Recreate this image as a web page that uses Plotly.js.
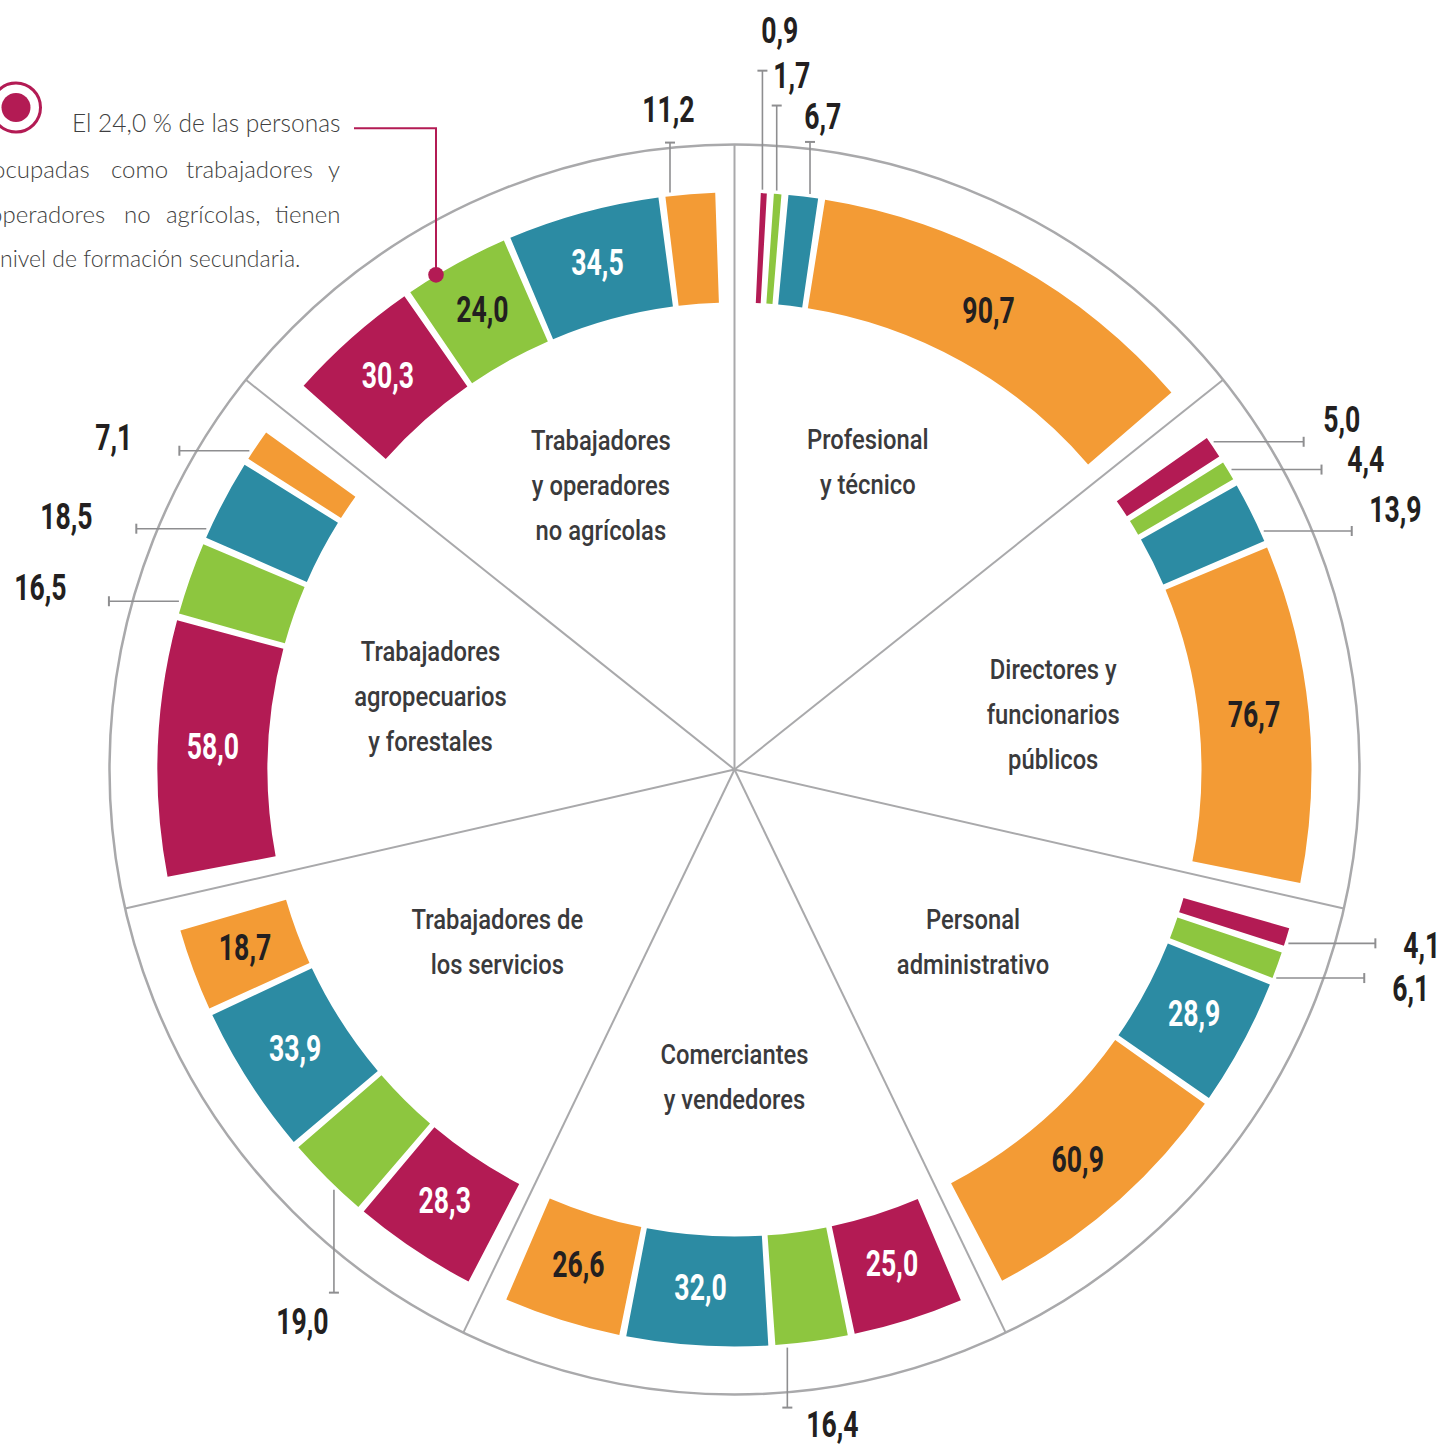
<!DOCTYPE html>
<html><head><meta charset="utf-8">
<script src="https://cdn.plot.ly/plotly-3.0.1.min.js"></script>
<style>html,body{margin:0;padding:0;background:#fff;overflow:hidden}#chart{width:1441px;height:1445px}</style>
</head><body><div id="chart"></div>
<script>
// ---------- DATA ----------
const categories = [
  "Profesional<br>y técnico",
  "Directores y<br>funcionarios<br>públicos",
  "Personal<br>administrativo",
  "Comerciantes<br>y vendedores",
  "Trabajadores de<br>los servicios",
  "Trabajadores<br>agropecuarios<br>y forestales",
  "Trabajadores<br>y operadores<br>no agrícolas"
];
// percentage of each occupation by education level (4 levels, clockwise inside each sector)
const nivel1 = [0.9, 5.0, 4.1, 25.0, 28.3, 58.0, 30.3];   // magenta
const nivel2 = [1.7, 4.4, 6.1, 16.4, 19.0, 16.5, 24.0];   // green (secundaria)
const nivel3 = [6.7, 13.9, 28.9, 32.0, 33.9, 18.5, 34.5]; // teal
const nivel4 = [90.7, 76.7, 60.9, 26.6, 18.7, 7.1, 11.2]; // orange
const calloutText = ["El 24,0 % de las personas", "ocupadas como trabajadores y", "operadores no agrícolas, tienen", "nivel de formación secundaria."];

// ---------- STYLE / LAYOUT CONFIG ----------
const seriesValues = [nivel1, nivel2, nivel3, nivel4];
const seriesColors = ['#B31B54', '#8DC63F', '#2C8BA3', '#F39B35'];
const insideColors = ['#FFFFFF', '#231F20', '#FFFFFF', '#231F20'];
const W = 1441, H = 1445, CX = 734.5, CY = 769.5, RPX = 625, RMAX = 125, PX = RPX / RMAX;
const SECTOR = 360 / categories.length, SPAN100 = 44.3, GAP = 0.7, MINW = 0.6;
const sectorShift = [0.2, 1.0, 0.6, 0.1, -0.8, -0.35, 0.6]; // small hand placement of each group (deg)
const BASE = 93.4, LEN = 22;
const NUMFONT = "Roboto, 'Noto Sans', sans-serif";
const NUM_SIZE = 37, NUM_SCALE = 0.72, CAT_SIZE = 28, CAT_SCALE = 0.85;
const LEADER = '#8E8E90';
// category label placement: [radius px, angle deg]
const catPos = [[333, 23.6], [323, 80.7], [296, 126.3], [310, 180], [295, 233.5], [312, 283], [311.5, 334.6]];
const CAT_LINE = 45;
// labels drawn outside the ring with a leader line (f = where along the bar the leader starts)
const outside = {
  '0-0': {dir: 'up', len: 119, dx: 18, dy: -40, f: 0.24},
  '0-1': {dir: 'up', len: 85, dx: 15, dy: -30, f: 0.34},
  '0-2': {dir: 'up', len: 52, dx: 13, dy: -25, f: 0.71},
  '6-3': {dir: 'up', len: 50, dx: -1, dy: -33, f: 0.1},
  '1-0': {dir: 'right', len: 90, dx: 38, dy: -22, f: 0.31},
  '1-1': {dir: 'right', len: 90, dx: 44, dy: -10, f: 0.53},
  '1-2': {dir: 'right', len: 88, dx: 44, dy: -21, f: 0.85},
  '2-0': {dir: 'right', len: 87, dx: 47, dy: 2, f: 0.8},
  '2-1': {dir: 'right', len: 88, dx: 47, dy: 10, f: 0.95},
  '3-1': {dir: 'down', len: 60, dx: 45, dy: 17, f: 0.84},
  '4-1': {dir: 'down', len: 103, dx: -31, dy: 29, f: 0.35},
  '5-3': {dir: 'left', len: 70, dx: -65, dy: -13, f: 0.23},
  '5-2': {dir: 'left', len: 70, dx: -70, dy: -12, f: 0.10},
  '5-1': {dir: 'left', len: 70, dx: -68, dy: -14, f: 0.16}
};

// ---------- helpers ----------
function toPolar(x, y) { const dx = x - CX, dy = y - CY; return {r: Math.hypot(dx, dy) / PX, t: (Math.atan2(dx, -dy) * 180 / Math.PI + 360) % 360}; }
function toXY(r, t) { const a = t * Math.PI / 180; return {x: CX + r * PX * Math.sin(a), y: CY - r * PX * Math.cos(a)}; }
const px = x => x / W, py = y => 1 - y / H;
const fmt = v => v.toFixed(1).replace('.', ',');

// angular geometry of every bar, derived from its value
const geo = categories.map((c, k) => {
  const ws = seriesValues.map(a => Math.max(MINW, a[k] / 100 * SPAN100));
  const total = ws.reduce((p, q) => p + q, 0) + GAP * (ws.length - 1);
  let t = k * SECTOR + (SECTOR - total) / 2 + sectorShift[k];
  return ws.map(w => { const g = {t0: t, w: w, tc: t + w / 2}; t += w + GAP; return g; });
});

const traces = [];
seriesValues.forEach((vals, s) => {
  traces.push({
    type: 'barpolar',
    theta: vals.map((v, k) => geo[k][s].tc),
    width: vals.map((v, k) => geo[k][s].w),
    r: vals.map(() => LEN),
    base: vals.map(() => BASE),
    marker: {color: seriesColors[s], line: {width: 0}},
    hoverinfo: 'skip', showlegend: false
  });
});

const shapes = [], ann = [];
const inR = [], inT = [], inTx = [], inC = [];
seriesValues.forEach((vals, s) => {
  vals.forEach((v, k) => {
    const g = geo[k][s];
    const cfg = outside[k + '-' + s];
    if (!cfg) {
      inR.push(BASE + LEN / 2); inT.push(g.tc); inTx.push(fmt(v)); inC.push(insideColors[s]);
    } else {
      const st = toXY(BASE + LEN + 0.7, g.t0 + cfg.f * g.w);
      let ex = st.x, ey = st.y, vert = true;
      if (cfg.dir === 'up') ey = st.y - cfg.len;
      if (cfg.dir === 'down') ey = st.y + cfg.len;
      if (cfg.dir === 'left') { ex = st.x - cfg.len; vert = false; }
      if (cfg.dir === 'right') { ex = st.x + cfg.len; vert = false; }
      shapes.push({type: 'line', xref: 'paper', yref: 'paper', x0: px(st.x), y0: py(st.y), x1: px(ex), y1: py(ey), line: {color: LEADER, width: 1.6}});
      if (vert) shapes.push({type: 'line', xref: 'paper', yref: 'paper', x0: px(ex - 5), y0: py(ey), x1: px(ex + 5), y1: py(ey), line: {color: LEADER, width: 2}});
      else shapes.push({type: 'line', xref: 'paper', yref: 'paper', x0: px(ex), y0: py(ey - 5), x1: px(ex), y1: py(ey + 5), line: {color: LEADER, width: 2}});
      ann.push({text: fmt(v), x: px(ex + cfg.dx), y: py(ey + cfg.dy), xref: 'paper', yref: 'paper', xanchor: 'center', yanchor: 'middle',
        showarrow: false, font: {family: NUMFONT, size: NUM_SIZE, color: '#231F20', weight: 'bold'}});
    }
  });
});
traces.push({type: 'scatterpolar', mode: 'text', r: inR, theta: inT, text: inTx, textposition: 'middle center',
  textfont: {family: NUMFONT, size: NUM_SIZE, color: inC, weight: 'bold'}, cliponaxis: false, hoverinfo: 'skip', showlegend: false});

// category labels, one text per line
const cR = [], cT = [], cTx = [];
categories.forEach((c, k) => {
  const lines = c.split('<br>');
  const ctr = toXY(catPos[k][0] / PX, catPos[k][1]);
  lines.forEach((ln, i) => {
    const p = toPolar(ctr.x, ctr.y + (i - (lines.length - 1) / 2) * CAT_LINE);
    cR.push(p.r); cT.push(p.t); cTx.push(ln);
  });
});
traces.push({type: 'scatterpolar', mode: 'text', r: cR, theta: cT, text: cTx, textposition: 'middle center',
  textfont: {family: NUMFONT, size: CAT_SIZE, color: '#3A3A3C', weight: 500}, cliponaxis: false, hoverinfo: 'skip', showlegend: false});

// callout: dot on the green bar of the last sector, connector to text, and icon
const MAG = '#B31B54';
const cg = geo[6][1];
const dot = toXY(BASE + LEN + 0.15, cg.t0 + 0.29 * cg.w);
const TXT_Y = 128.3, TXT_X = 354;
shapes.push({type: 'path', xref: 'paper', yref: 'paper',
  path: `M ${px(dot.x)} ${py(dot.y)} L ${px(dot.x)} ${py(TXT_Y)} L ${px(TXT_X)} ${py(TXT_Y)}`, line: {color: MAG, width: 2}});
function circ(x, y, r, fill, lw) {
  shapes.push({type: 'circle', xref: 'paper', yref: 'paper', x0: px(x - r), x1: px(x + r), y0: py(y + r), y1: py(y - r),
    fillcolor: fill, line: {color: MAG, width: lw}});
}
circ(dot.x, dot.y, 7.8, MAG, 0);
circ(16, 107.5, 24.5, 'rgba(0,0,0,0)', 3);
circ(16, 107.5, 14.5, MAG, 0);

// callout text (justified look)
const TFAM = "Lato, 'Open Sans', sans-serif", TCOL = '#3F3F41';
function addTxt(text, x, y, xa, size) {
  ann.push({text: text, x: px(x), y: py(y), xref: 'paper', yref: 'paper', xanchor: xa, yanchor: 'middle', showarrow: false,
    font: {family: TFAM, size: size || 24, color: TCOL, weight: 300}});
}
addTxt(calloutText[0], 342, 123, 'right', 24.5);
const w2 = calloutText[1].split(' ');
addTxt(w2[0], 92, 168, 'right'); addTxt(w2[1], 139.5, 168, 'center'); addTxt(w2[2], 249.5, 168, 'center'); addTxt(w2[3], 342, 168, 'right');
const w3 = calloutText[2].split(' ');
addTxt(w3[0], 107, 213, 'right'); addTxt(w3[1], 137.5, 213, 'center'); addTxt(w3[2], 213.5, 213, 'center'); addTxt(w3[3], 342, 213, 'right');
addTxt(calloutText[3], 302, 258, 'right', 23);

const tickvals = categories.map((c, k) => k * SECTOR);
const layout = {
  width: W, height: H, margin: {l: 0, r: 0, t: 0, b: 0},
  paper_bgcolor: '#FFFFFF', showlegend: false, hovermode: false, dragmode: false,
  polar: {
    domain: {x: [(CX - RPX) / W, (CX + RPX) / W], y: [(H - CY - RPX) / H, (H - CY + RPX) / H]},
    bgcolor: '#FFFFFF', bargap: 0,
    radialaxis: {range: [0, RMAX], autorange: false, showgrid: false, showline: false, showticklabels: false, ticks: ''},
    angularaxis: {direction: 'clockwise', rotation: 90, thetaunit: 'degrees', tickmode: 'array', tickvals: tickvals,
      showticklabels: false, ticks: '', showgrid: true, gridcolor: '#A9A9AB', gridwidth: 2,
      showline: true, linecolor: '#A9A9AB', linewidth: 2.5}
  },
  shapes: shapes,
  annotations: ann
};
Plotly.newPlot('chart', traces, layout, {staticPlot: true, displayModeBar: false}).then(gd => {
  // emulate the condensed typeface by narrowing Roboto texts around their anchor
  gd.querySelectorAll('text').forEach(t => {
    const fam = t.style.fontFamily || '';
    if (fam.indexOf('Roboto') < 0) return;
    const size = parseFloat(t.style.fontSize);
    const s = size > 32 ? NUM_SCALE : CAT_SCALE;
    const x = parseFloat(t.getAttribute('x')) || 0;
    const prev = t.getAttribute('transform') || '';
    t.setAttribute('transform', (prev ? prev + ' ' : '') + `translate(${x},0) scale(${s},1) translate(${-x},0)`);
  });
});
</script></body></html>
